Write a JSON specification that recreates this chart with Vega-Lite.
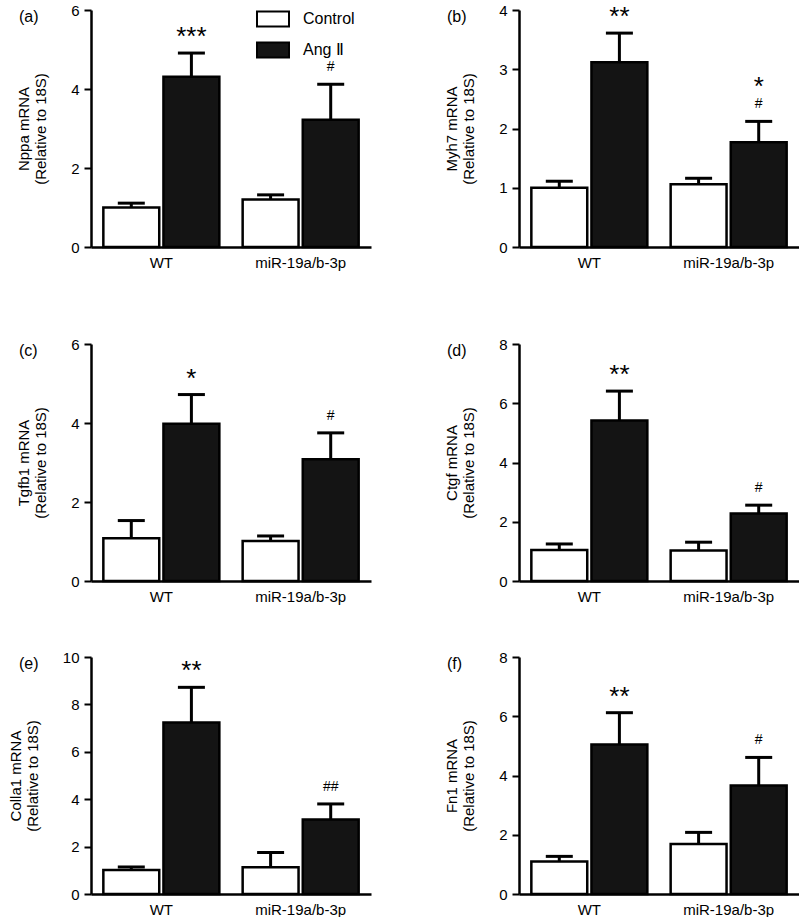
{
"$schema": "https://vega.github.io/schema/vega-lite/v6.json",
"padding": {"left": 8, "top": 3, "right": 0, "bottom": 0},
"datasets": {
"expr": [
{"panel":"a","group":"WT","cond":"Control","mean":1.00,"upper":1.11},
{"panel":"a","group":"WT","cond":"Ang Ⅱ","mean":4.31,"upper":4.91,"star":"***"},
{"panel":"a","group":"miR-19a/b-3p","cond":"Control","mean":1.20,"upper":1.32},
{"panel":"a","group":"miR-19a/b-3p","cond":"Ang Ⅱ","mean":3.22,"upper":4.12,"hash":"#"},
{"panel":"b","group":"WT","cond":"Control","mean":1.00,"upper":1.11},
{"panel":"b","group":"WT","cond":"Ang Ⅱ","mean":3.12,"upper":3.61,"star":"**"},
{"panel":"b","group":"miR-19a/b-3p","cond":"Control","mean":1.06,"upper":1.16},
{"panel":"b","group":"miR-19a/b-3p","cond":"Ang Ⅱ","mean":1.77,"upper":2.12,"star_over_hash":"*","hash":"#"},
{"panel":"c","group":"WT","cond":"Control","mean":1.08,"upper":1.53},
{"panel":"c","group":"WT","cond":"Ang Ⅱ","mean":3.98,"upper":4.72,"star":"*"},
{"panel":"c","group":"miR-19a/b-3p","cond":"Control","mean":1.01,"upper":1.14},
{"panel":"c","group":"miR-19a/b-3p","cond":"Ang Ⅱ","mean":3.08,"upper":3.75,"hash":"#"},
{"panel":"d","group":"WT","cond":"Control","mean":1.05,"upper":1.25},
{"panel":"d","group":"WT","cond":"Ang Ⅱ","mean":5.42,"upper":6.41,"star":"**"},
{"panel":"d","group":"miR-19a/b-3p","cond":"Control","mean":1.03,"upper":1.31},
{"panel":"d","group":"miR-19a/b-3p","cond":"Ang Ⅱ","mean":2.28,"upper":2.56,"hash":"#"},
{"panel":"e","group":"WT","cond":"Control","mean":1.01,"upper":1.14},
{"panel":"e","group":"WT","cond":"Ang Ⅱ","mean":7.24,"upper":8.72,"star":"**"},
{"panel":"e","group":"miR-19a/b-3p","cond":"Control","mean":1.13,"upper":1.75},
{"panel":"e","group":"miR-19a/b-3p","cond":"Ang Ⅱ","mean":3.14,"upper":3.80,"hash":"##"},
{"panel":"f","group":"WT","cond":"Control","mean":1.10,"upper":1.27},
{"panel":"f","group":"WT","cond":"Ang Ⅱ","mean":5.05,"upper":6.12,"star":"**"},
{"panel":"f","group":"miR-19a/b-3p","cond":"Control","mean":1.69,"upper":2.08},
{"panel":"f","group":"miR-19a/b-3p","cond":"Ang Ⅱ","mean":3.66,"upper":4.61,"hash":"#"}
]
},
"data": {"name": "expr"},
"vconcat": [
{"hconcat": [
{
 "width": 280, "height": 237,
 "title": {"text": "(a)", "dx": -72, "offset": -22, "frame": "group"},
 "transform": [{"filter": "datum.panel === 'a'"}],
 "encoding": {
  "x": {"field":"group","type":"nominal","sort":["WT","miR-19a/b-3p"],"scale":{"paddingInner":0.15,"paddingOuter":0.08},"axis":{"title":" ","titleFontSize":22,"titlePadding":0}},
  "xOffset": {"field":"cond","type":"nominal","sort":["Control","Ang Ⅱ"],"scale":{"paddingInner":0.07,"paddingOuter":0.02}}
 },
 "layer": [
  {"mark":{"type":"bar","stroke":"black","strokeWidth":2.5},
   "encoding":{"y":{"field":"mean","type":"quantitative","title":["Nppa mRNA","(Relative to 18S)"],"scale":{"domain":[0,6],"nice":false},"axis":{"values":[0,1,2,3,4,5,6],"format":"d","labelExpr":"datum.value % 2 === 0 ? datum.label : ''","tickSize":{"condition":{"test":"datum.value % 2 === 0","value":7},"value":4}}},
   "fill":{"field":"cond","type":"nominal","scale":{"domain":["Control","Ang Ⅱ"],"range":["white","#141414"]},
     "legend":{"orient":"none","legendX":165,"legendY":0,"padding":0,"title":null,"symbolType":"M-1,-0.94H3V0.94H-1Z","symbolSize":256,"symbolStrokeColor":"black","symbolStrokeWidth":2,"symbolOpacity":1,"labelFontSize":16,"labelOffset":29,"rowPadding":7}}}},
  {"mark":{"type":"rule","strokeWidth":3,"color":"black"},"encoding":{"y":{"field":"mean","type":"quantitative","title":["Nppa mRNA","(Relative to 18S)"]},"y2":{"field":"upper"}}},
  {"mark":{"type":"tick","thickness":3,"size":27,"color":"black","opacity":1},"encoding":{"y":{"field":"upper","type":"quantitative","title":["Nppa mRNA","(Relative to 18S)"]}}},
  {"transform":[{"filter":"datum.star"}],"mark":{"type":"text","fontSize":26,"baseline":"bottom","dy":-3,"color":"black"},"encoding":{"y":{"field":"upper","type":"quantitative","title":["Nppa mRNA","(Relative to 18S)"]},"text":{"field":"star"}}},
  {"transform":[{"filter":"datum.hash"}],"mark":{"type":"text","fontSize":14,"baseline":"bottom","dy":-10,"color":"black"},"encoding":{"y":{"field":"upper","type":"quantitative","title":["Nppa mRNA","(Relative to 18S)"]},"text":{"field":"hash"}}}
 ]
},
{
 "width": 280, "height": 237,
 "title": {"text": "(b)", "dx": -72, "offset": -22, "frame": "group"},
 "transform": [{"filter": "datum.panel === 'b'"}],
 "encoding": {
  "x": {"field":"group","type":"nominal","sort":["WT","miR-19a/b-3p"],"scale":{"paddingInner":0.15,"paddingOuter":0.08},"axis":{"title":" ","titleFontSize":22,"titlePadding":0}},
  "xOffset": {"field":"cond","type":"nominal","sort":["Control","Ang Ⅱ"],"scale":{"paddingInner":0.07,"paddingOuter":0.02}}
 },
 "layer": [
  {"mark":{"type":"bar","stroke":"black","strokeWidth":2.5},
   "encoding":{"y":{"field":"mean","type":"quantitative","title":["Myh7 mRNA","(Relative to 18S)"],"scale":{"domain":[0,4],"nice":false},"axis":{"values":[0,0.5,1,1.5,2,2.5,3,3.5,4],"format":"d","labelExpr":"datum.value % 1 === 0 ? datum.label : ''","tickSize":{"condition":{"test":"datum.value % 1 === 0","value":7},"value":4}}},
   "fill":{"field":"cond","type":"nominal","scale":{"domain":["Control","Ang Ⅱ"],"range":["white","#141414"]},"legend":null}}},
  {"mark":{"type":"rule","strokeWidth":3,"color":"black"},"encoding":{"y":{"field":"mean","type":"quantitative","title":["Myh7 mRNA","(Relative to 18S)"]},"y2":{"field":"upper"}}},
  {"mark":{"type":"tick","thickness":3,"size":27,"color":"black","opacity":1},"encoding":{"y":{"field":"upper","type":"quantitative","title":["Myh7 mRNA","(Relative to 18S)"]}}},
  {"transform":[{"filter":"datum.star"}],"mark":{"type":"text","fontSize":26,"baseline":"bottom","dy":-3,"color":"black"},"encoding":{"y":{"field":"upper","type":"quantitative","title":["Myh7 mRNA","(Relative to 18S)"]},"text":{"field":"star"}}},
  {"transform":[{"filter":"datum.star_over_hash"}],"mark":{"type":"text","fontSize":26,"baseline":"bottom","dy":-21,"color":"black"},"encoding":{"y":{"field":"upper","type":"quantitative","title":["Myh7 mRNA","(Relative to 18S)"]},"text":{"field":"star_over_hash"}}},
  {"transform":[{"filter":"datum.hash"}],"mark":{"type":"text","fontSize":14,"baseline":"bottom","dy":-10,"color":"black"},"encoding":{"y":{"field":"upper","type":"quantitative","title":["Myh7 mRNA","(Relative to 18S)"]},"text":{"field":"hash"}}}
 ]
}
], "spacing": 73, "resolve": {"scale": {"fill": "independent"}, "legend": {"fill": "independent"}}},
{"hconcat": [
{
 "width": 280, "height": 237,
 "title": {"text": "(c)", "dx": -72, "offset": -22, "frame": "group"},
 "transform": [{"filter": "datum.panel === 'c'"}],
 "encoding": {
  "x": {"field":"group","type":"nominal","sort":["WT","miR-19a/b-3p"],"scale":{"paddingInner":0.15,"paddingOuter":0.08},"axis":{"title":null}},
  "xOffset": {"field":"cond","type":"nominal","sort":["Control","Ang Ⅱ"],"scale":{"paddingInner":0.07,"paddingOuter":0.02}}
 },
 "layer": [
  {"mark":{"type":"bar","stroke":"black","strokeWidth":2.5},
   "encoding":{"y":{"field":"mean","type":"quantitative","title":["Tgfb1 mRNA","(Relative to 18S)"],"scale":{"domain":[0,6],"nice":false},"axis":{"values":[0,1,2,3,4,5,6],"format":"d","labelExpr":"datum.value % 2 === 0 ? datum.label : ''","tickSize":{"condition":{"test":"datum.value % 2 === 0","value":7},"value":4}}},
   "fill":{"field":"cond","type":"nominal","scale":{"domain":["Control","Ang Ⅱ"],"range":["white","#141414"]},"legend":null}}},
  {"mark":{"type":"rule","strokeWidth":3,"color":"black"},"encoding":{"y":{"field":"mean","type":"quantitative","title":["Tgfb1 mRNA","(Relative to 18S)"]},"y2":{"field":"upper"}}},
  {"mark":{"type":"tick","thickness":3,"size":27,"color":"black","opacity":1},"encoding":{"y":{"field":"upper","type":"quantitative","title":["Tgfb1 mRNA","(Relative to 18S)"]}}},
  {"transform":[{"filter":"datum.star"}],"mark":{"type":"text","fontSize":26,"baseline":"bottom","dy":-3,"color":"black"},"encoding":{"y":{"field":"upper","type":"quantitative","title":["Tgfb1 mRNA","(Relative to 18S)"]},"text":{"field":"star"}}},
  {"transform":[{"filter":"datum.hash"}],"mark":{"type":"text","fontSize":14,"baseline":"bottom","dy":-10,"color":"black"},"encoding":{"y":{"field":"upper","type":"quantitative","title":["Tgfb1 mRNA","(Relative to 18S)"]},"text":{"field":"hash"}}}
 ]
},
{
 "width": 280, "height": 237,
 "title": {"text": "(d)", "dx": -72, "offset": -22, "frame": "group"},
 "transform": [{"filter": "datum.panel === 'd'"}],
 "encoding": {
  "x": {"field":"group","type":"nominal","sort":["WT","miR-19a/b-3p"],"scale":{"paddingInner":0.15,"paddingOuter":0.08},"axis":{"title":null}},
  "xOffset": {"field":"cond","type":"nominal","sort":["Control","Ang Ⅱ"],"scale":{"paddingInner":0.07,"paddingOuter":0.02}}
 },
 "layer": [
  {"mark":{"type":"bar","stroke":"black","strokeWidth":2.5},
   "encoding":{"y":{"field":"mean","type":"quantitative","title":["Ctgf mRNA","(Relative to 18S)"],"scale":{"domain":[0,8],"nice":false},"axis":{"values":[0,1,2,3,4,5,6,7,8],"format":"d","labelExpr":"datum.value % 2 === 0 ? datum.label : ''","tickSize":{"condition":{"test":"datum.value % 2 === 0","value":7},"value":4}}},
   "fill":{"field":"cond","type":"nominal","scale":{"domain":["Control","Ang Ⅱ"],"range":["white","#141414"]},"legend":null}}},
  {"mark":{"type":"rule","strokeWidth":3,"color":"black"},"encoding":{"y":{"field":"mean","type":"quantitative","title":["Ctgf mRNA","(Relative to 18S)"]},"y2":{"field":"upper"}}},
  {"mark":{"type":"tick","thickness":3,"size":27,"color":"black","opacity":1},"encoding":{"y":{"field":"upper","type":"quantitative","title":["Ctgf mRNA","(Relative to 18S)"]}}},
  {"transform":[{"filter":"datum.star"}],"mark":{"type":"text","fontSize":26,"baseline":"bottom","dy":-3,"color":"black"},"encoding":{"y":{"field":"upper","type":"quantitative","title":["Ctgf mRNA","(Relative to 18S)"]},"text":{"field":"star"}}},
  {"transform":[{"filter":"datum.hash"}],"mark":{"type":"text","fontSize":14,"baseline":"bottom","dy":-10,"color":"black"},"encoding":{"y":{"field":"upper","type":"quantitative","title":["Ctgf mRNA","(Relative to 18S)"]},"text":{"field":"hash"}}}
 ]
}
], "spacing": 73, "resolve": {"scale": {"fill": "independent"}, "legend": {"fill": "independent"}}},
{"hconcat": [
{
 "width": 280, "height": 237,
 "title": {"text": "(e)", "dx": -72, "offset": -22, "frame": "group"},
 "transform": [{"filter": "datum.panel === 'e'"}],
 "encoding": {
  "x": {"field":"group","type":"nominal","sort":["WT","miR-19a/b-3p"],"scale":{"paddingInner":0.15,"paddingOuter":0.08},"axis":{"title":null}},
  "xOffset": {"field":"cond","type":"nominal","sort":["Control","Ang Ⅱ"],"scale":{"paddingInner":0.07,"paddingOuter":0.02}}
 },
 "layer": [
  {"mark":{"type":"bar","stroke":"black","strokeWidth":2.5},
   "encoding":{"y":{"field":"mean","type":"quantitative","title":["Colla1 mRNA","(Relative to 18S)"],"scale":{"domain":[0,10],"nice":false},"axis":{"values":[0,1,2,3,4,5,6,7,8,9,10],"format":"d","labelExpr":"datum.value % 2 === 0 ? datum.label : ''","tickSize":{"condition":{"test":"datum.value % 2 === 0","value":7},"value":4}}},
   "fill":{"field":"cond","type":"nominal","scale":{"domain":["Control","Ang Ⅱ"],"range":["white","#141414"]},"legend":null}}},
  {"mark":{"type":"rule","strokeWidth":3,"color":"black"},"encoding":{"y":{"field":"mean","type":"quantitative","title":["Colla1 mRNA","(Relative to 18S)"]},"y2":{"field":"upper"}}},
  {"mark":{"type":"tick","thickness":3,"size":27,"color":"black","opacity":1},"encoding":{"y":{"field":"upper","type":"quantitative","title":["Colla1 mRNA","(Relative to 18S)"]}}},
  {"transform":[{"filter":"datum.star"}],"mark":{"type":"text","fontSize":26,"baseline":"bottom","dy":-3,"color":"black"},"encoding":{"y":{"field":"upper","type":"quantitative","title":["Colla1 mRNA","(Relative to 18S)"]},"text":{"field":"star"}}},
  {"transform":[{"filter":"datum.hash"}],"mark":{"type":"text","fontSize":14,"baseline":"bottom","dy":-10,"color":"black"},"encoding":{"y":{"field":"upper","type":"quantitative","title":["Colla1 mRNA","(Relative to 18S)"]},"text":{"field":"hash"}}}
 ]
},
{
 "width": 280, "height": 237,
 "title": {"text": "(f)", "dx": -72, "offset": -22, "frame": "group"},
 "transform": [{"filter": "datum.panel === 'f'"}],
 "encoding": {
  "x": {"field":"group","type":"nominal","sort":["WT","miR-19a/b-3p"],"scale":{"paddingInner":0.15,"paddingOuter":0.08},"axis":{"title":null}},
  "xOffset": {"field":"cond","type":"nominal","sort":["Control","Ang Ⅱ"],"scale":{"paddingInner":0.07,"paddingOuter":0.02}}
 },
 "layer": [
  {"mark":{"type":"bar","stroke":"black","strokeWidth":2.5},
   "encoding":{"y":{"field":"mean","type":"quantitative","title":["Fn1 mRNA","(Relative to 18S)"],"scale":{"domain":[0,8],"nice":false},"axis":{"values":[0,1,2,3,4,5,6,7,8],"format":"d","labelExpr":"datum.value % 2 === 0 ? datum.label : ''","tickSize":{"condition":{"test":"datum.value % 2 === 0","value":7},"value":4}}},
   "fill":{"field":"cond","type":"nominal","scale":{"domain":["Control","Ang Ⅱ"],"range":["white","#141414"]},"legend":null}}},
  {"mark":{"type":"rule","strokeWidth":3,"color":"black"},"encoding":{"y":{"field":"mean","type":"quantitative","title":["Fn1 mRNA","(Relative to 18S)"]},"y2":{"field":"upper"}}},
  {"mark":{"type":"tick","thickness":3,"size":27,"color":"black","opacity":1},"encoding":{"y":{"field":"upper","type":"quantitative","title":["Fn1 mRNA","(Relative to 18S)"]}}},
  {"transform":[{"filter":"datum.star"}],"mark":{"type":"text","fontSize":26,"baseline":"bottom","dy":-3,"color":"black"},"encoding":{"y":{"field":"upper","type":"quantitative","title":["Fn1 mRNA","(Relative to 18S)"]},"text":{"field":"star"}}},
  {"transform":[{"filter":"datum.hash"}],"mark":{"type":"text","fontSize":14,"baseline":"bottom","dy":-10,"color":"black"},"encoding":{"y":{"field":"upper","type":"quantitative","title":["Fn1 mRNA","(Relative to 18S)"]},"text":{"field":"hash"}}}
 ]
}
], "spacing": 73, "resolve": {"scale": {"fill": "independent"}, "legend": {"fill": "independent"}}}
],
"spacing": 46,
"resolve": {"scale": {"fill": "independent"}, "legend": {"fill": "independent"}},
"config": {
 "font": "Liberation Sans",
 "view": {"stroke": null},
 "axis": {"domainColor":"black","domainWidth":2.5,"tickColor":"black","tickWidth":2,"labelColor":"black","titleColor":"black","labelFontSize":15,"titleFontSize":15,"titleFontWeight":"normal","grid":false},
 "axisY": {"labelPadding": 5, "titlePadding": 22},
 "axisX": {"ticks": false, "labelAngle": 0, "labelPadding": 8},
 "title": {"fontSize": 16, "fontWeight": "normal", "anchor": "start", "color": "black"}
}
}
